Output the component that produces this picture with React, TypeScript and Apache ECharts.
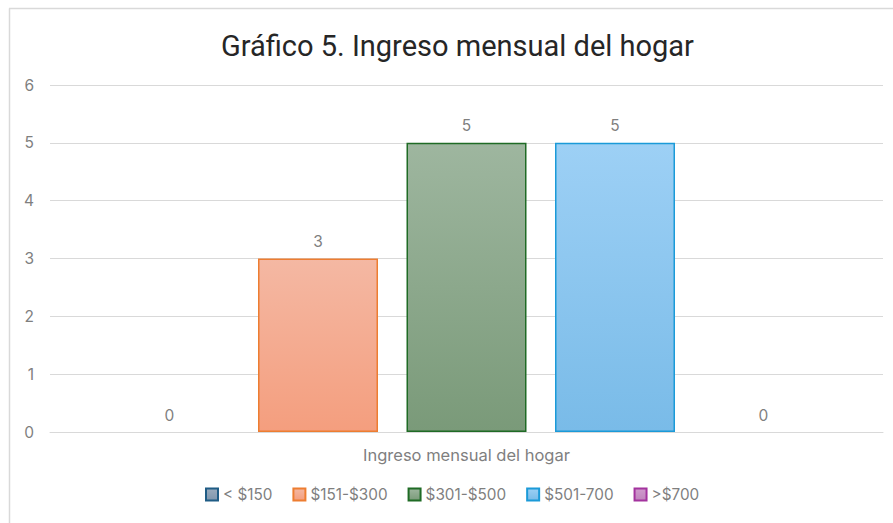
import React, { useEffect, useRef } from "react";
import * as echarts from "echarts";

const titleText = "Gráfico 5. Ingreso mensual del hogar";
const categories = ["Ingreso mensual del hogar"];
const seriesNames = ["< $150", "$151-$300", "$301-$500", "$501-700", ">$700"];
const seriesValues = [0, 3, 5, 5, 0];
const yTicks = [0, 1, 2, 3, 4, 5, 6];
const borderColors = ["#1f5c85", "#ed7d31", "#1f6b25", "#1b9ad8", "#a3339e"];
const fillTop = ["#9aabbd", "#f4b8a3", "#9eb69f", "#9dd0f5", "#d09acd"];
const fillBottom = ["#7f96ad", "#f49e7e", "#7a9a79", "#79bbe8", "#c084bd"];

export default function App() {
  const ref = useRef<HTMLDivElement>(null);
  useEffect(() => {
    if (!ref.current) return;
    const chart = echarts.init(ref.current, undefined, { renderer: "svg" });
    const font = "Inter, 'Noto Sans', sans-serif";
    chart.setOption({
      animation: false,
      backgroundColor: "#ffffff",
      title: {
        text: titleText,
        left: 216,
        top: 26,
        textStyle: {
          fontFamily: "'Liberation Sans Narrow', 'Roboto', sans-serif",
          fontSize: 29,
          fontWeight: "normal",
          color: "#262626",
        },
      },
      graphic: [
        { type: "line", shape: { x1: 9.5, y1: 8.5, x2: 9.5, y2: 523 }, style: { stroke: "#d9d9d9", lineWidth: 1.5 } },
        { type: "line", shape: { x1: 9, y1: 8.5, x2: 893, y2: 8.5 }, style: { stroke: "#d9d9d9", lineWidth: 1.5 } },
      ],
      legend: {
        data: seriesNames,
        icon: "rect",
        bottom: 16,
        left: 200,
        itemWidth: 12,
        itemHeight: 12,
        itemGap: 20,
        textStyle: { fontFamily: font, fontSize: 15.3, color: "#7f7f7f" },
      },
      grid: { left: 50, right: 10, top: 85, bottom: 91 },
      xAxis: {
        type: "category",
        data: categories,
        axisLine: { lineStyle: { color: "#d9d9d9", width: 1 } },
        axisTick: { show: false },
        axisLabel: { fontFamily: font, fontSize: 16.5, color: "#7f7f7f", margin: 14 },
      },
      yAxis: {
        type: "value",
        min: yTicks[0],
        max: yTicks[yTicks.length - 1],
        interval: 1,
        axisLine: { show: false },
        axisTick: { show: false },
        splitLine: { lineStyle: { color: "#d9d9d9", width: 1 } },
        axisLabel: { fontFamily: font, fontSize: 15.5, color: "#7f7f7f", margin: 16 },
      },
      series: seriesNames.map((name, i) => ({
        name,
        type: "bar",
        data: [
          seriesValues[i] === 0
            ? { value: seriesValues[i], itemStyle: { borderWidth: 0, opacity: 0 } }
            : seriesValues[i],
        ],
        barWidth: 120,
        barGap: "23.75%",
        itemStyle: {
          color: new echarts.graphic.LinearGradient(0, 0, 0, 1, [
            { offset: 0, color: fillTop[i] },
            { offset: 1, color: fillBottom[i] },
          ]),
          borderColor: borderColors[i],
          borderWidth: 1.5,
        },
        label: {
          show: true,
          position: "top",
          distance: 9,
          fontFamily: font,
          fontSize: 15.5,
          color: "#7f7f7f",
          opacity: 1,
        },
      })),
    });
    return () => chart.dispose();
  }, []);
  return (
    <div
      ref={ref}
      style={{ position: "fixed", left: 0, top: 0, width: 893, height: 523 }}
    />
  );
}
